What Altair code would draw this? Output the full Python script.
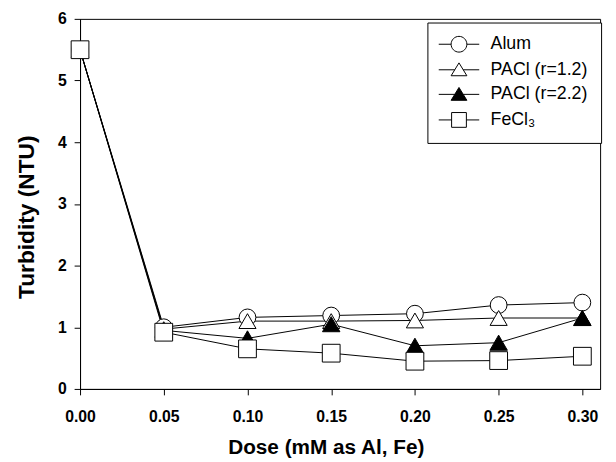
import altair as alt
import pandas as pd

dose = [0.00, 0.05, 0.10, 0.15, 0.20, 0.25, 0.30]
series_names = ["Alum", "PACl (r=1.2)", "PACl (r=2.2)", "FeCl₃"]
alum = [5.5, 1.00, 1.16, 1.19, 1.22, 1.36, 1.40]
pacl12 = [5.5, 0.97, 1.10, 1.10, 1.11, 1.15, 1.15]
pacl22 = [5.5, 0.95, 0.82, 1.05, 0.70, 0.75, 1.15]
fecl3 = [5.5, 0.92, 0.65, 0.58, 0.45, 0.46, 0.53]
x_ticks = [0.00, 0.05, 0.10, 0.15, 0.20, 0.25, 0.30]
y_ticks = [0, 1, 2, 3, 4, 5, 6]

rows = []
for name, vals in zip(series_names, [alum, pacl12, pacl22, fecl3]):
    for i, (d, v) in enumerate(zip(dose, vals)):
        rows.append({"series": name, "dose": d, "turb": v, "idx": i})
df = pd.DataFrame(rows)

FONT = "Liberation Sans"

xenc = alt.X("dose:Q", scale=alt.Scale(domain=[0, 0.3106], nice=False, zero=False),
             axis=alt.Axis(values=x_ticks, format=".2f", title="Dose (mM as Al, Fe)",
                           labelFlush=False,
                           titleX=249, titleY=65, titleBaseline="alphabetic", titleAlign="center"))
yenc = alt.Y("turb:Q", scale=alt.Scale(domain=[0, 6], nice=False),
             axis=alt.Axis(values=y_ticks, format="d", title="Turbidity (NTU)",
                           labelFlush=False,
                           titleX=-47.5, titleY=200.5, titleBaseline="alphabetic",
                           titleAlign="center", titleAngle=-90))

lines = alt.Chart(df).mark_line(color="black", strokeWidth=1).encode(
    x=xenc, y=yenc, detail="series:N", order="idx:Q")

points = alt.Chart(df).mark_point(filled=True, stroke="black", strokeWidth=1, opacity=1).encode(
    x=xenc, y=yenc,
    shape=alt.Shape("series:N", scale=alt.Scale(domain=series_names,
                    range=["circle", "triangle-up", "triangle-up", "square"]), legend=None),
    fill=alt.Fill("series:N", scale=alt.Scale(domain=series_names,
                  range=["white", "white", "black", "white"]), legend=None),
    size=alt.Size("series:N", scale=alt.Scale(domain=series_names,
                  range=[289, 324, 324, 256]), legend=None),
)

leg_circle = "M-2.93,0H-1.14M1.14,0H2.93M-1.14,0A1.14,1.14,0,1,1,1.14,0A1.14,1.14,0,1,1,-1.14,0Z"
leg_tri = "M-2.93,0H-0.61M0.61,0H2.93M0,-1L1.14,0.86L-1.14,0.86Z"
leg_sq = "M-2.93,0H-1.07M1.07,0H2.93M-1.07,-1.07H1.07V1.07H-1.07Z"

legend_common = dict(
    title=None, orient="none", legendX=352, legendY=3.7,
    strokeColor="black", fillColor="white", padding=13,
    symbolSize=196, symbolOffset=10, labelOffset=23, rowPadding=6.9,
    symbolStrokeWidth=1, symbolOpacity=1, symbolStrokeColor="black",
    labelFont=FONT, labelFontSize=18, labelColor="black", labelLimit=300,
)

legend_layer = alt.Chart(df).mark_point(filled=True, stroke="black", strokeWidth=1, opacity=0).encode(
    x=xenc, y=yenc,
    shape=alt.Shape("series:N", scale=alt.Scale(domain=series_names,
                    range=[leg_circle, leg_tri, leg_tri, leg_sq]),
                    legend=alt.Legend(**legend_common)),
    fill=alt.Fill("series:N", scale=alt.Scale(domain=series_names,
                  range=["white", "white", "black", "white"]),
                  legend=alt.Legend(**legend_common)),
    stroke=alt.Stroke("series:N", scale=alt.Scale(domain=series_names,
                      range=["black", "black", "black", "black"]),
                      legend=alt.Legend(**legend_common)),
)

chart = alt.layer(lines, points, legend_layer).resolve_scale(
    shape="independent", fill="independent", stroke="independent"
).properties(
    width=527, height=375,
    autosize=alt.AutoSizeParams(type="none"),
    padding={"left": 73, "top": 8, "right": 8, "bottom": 70},
    background="white",
).configure_view(
    stroke="black", strokeWidth=1
).configure_axis(
    grid=False, domainColor="black", domainWidth=1, tickColor="black", tickWidth=1,
    tickSize=6, labelFont=FONT, labelFontSize=16, labelFontWeight="bold", labelColor="black",
    titleFont=FONT, titleFontSize=21, titleFontWeight="bold", titleColor="black",
).configure_axisX(
    labelPadding=14
).configure_axisY(
    labelPadding=8, titleFontSize=23
)

chart.save("out.html", embed_options={"renderer": "svg", "actions": False})
